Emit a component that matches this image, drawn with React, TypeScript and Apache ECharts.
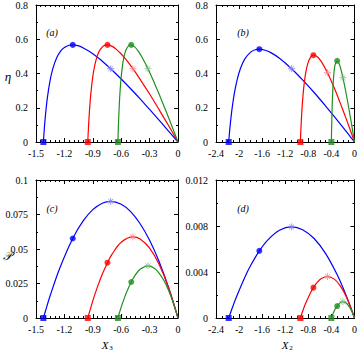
import React, { useEffect, useRef } from "react";
import * as echarts from "echarts";

// ---------- data ----------
// panel (a): efficiency vs X3
const aBlueX = [-1.422, -1.41, -1.40, -1.38, -1.35, -1.32, -1.28, -1.24, -1.2, -1.15, -1.112, -1.05, -1.0, -0.9, -0.8, -0.711, -0.6, -0.5, -0.4, -0.3, -0.2, -0.1, 0];
const aBlueY = [0, 0.093, 0.157, 0.258, 0.363, 0.433, 0.494, 0.531, 0.552, 0.565, 0.567, 0.561, 0.549, 0.516, 0.472, 0.428, 0.368, 0.311, 0.252, 0.190, 0.128, 0.064, 0];
const aRedX = [-0.953, -0.945, -0.935, -0.92, -0.9, -0.88, -0.85, -0.82, -0.78, -0.745, -0.7, -0.65, -0.6, -0.55, -0.4765, -0.4, -0.3, -0.2, -0.1, 0];
const aRedY = [0, 0.093, 0.184, 0.287, 0.382, 0.446, 0.507, 0.541, 0.563, 0.567, 0.560, 0.541, 0.514, 0.482, 0.428, 0.366, 0.280, 0.189, 0.096, 0];
const aGreenX = [-0.635, -0.63, -0.62, -0.61, -0.6, -0.585, -0.57, -0.55, -0.52, -0.494, -0.46, -0.42, -0.38, -0.3175, -0.25, -0.2, -0.15, -0.1, -0.05, 0];
const aGreenY = [0, 0.087, 0.219, 0.312, 0.380, 0.452, 0.498, 0.537, 0.563, 0.567, 0.557, 0.531, 0.495, 0.428, 0.345, 0.280, 0.212, 0.143, 0.072, 0];

// panel (b): efficiency vs X2
const bBlueX = [-2.18, -2.17, -2.15, -2.12, -2.08, -2.03, -1.97, -1.9, -1.8, -1.72, -1.649, -1.55, -1.45, -1.3, -1.09, -0.9, -0.7, -0.5, -0.3, -0.1, 0];
const bBlueY = [0, 0.041, 0.112, 0.199, 0.288, 0.369, 0.435, 0.485, 0.525, 0.539, 0.542, 0.536, 0.522, 0.489, 0.428, 0.363, 0.289, 0.210, 0.128, 0.043, 0];
const bRedX = [-0.938, -0.933, -0.925, -0.915, -0.9, -0.88, -0.85, -0.81, -0.76, -0.712, -0.65, -0.58, -0.469, -0.35, -0.25, -0.15, -0.05, 0];
const bRedY = [0, 0.042, 0.101, 0.163, 0.240, 0.316, 0.395, 0.458, 0.496, 0.507, 0.499, 0.472, 0.405, 0.315, 0.230, 0.141, 0.048, 0];
const bGreenX = [-0.401, -0.399, -0.396, -0.392, -0.386, -0.378, -0.367, -0.353, -0.335, -0.3, -0.27, -0.24, -0.2005, -0.15, -0.1, -0.05, 0];
const bGreenY = [0, 0.038, 0.088, 0.146, 0.217, 0.288, 0.357, 0.413, 0.453, 0.474, 0.460, 0.430, 0.376, 0.292, 0.200, 0.102, 0];

// panel (c): power vs X3
const cBlueX = [-1.422, -1.40, -1.35, -1.25, -1.112, -1.0, -0.9, -0.8, -0.711, -0.6, -0.5, -0.4, -0.3, -0.2, -0.1, 0];
const cBlueY = [0, 0.0051, 0.0163, 0.0359, 0.0576, 0.0705, 0.0785, 0.0832, 0.0845, 0.0824, 0.0771, 0.0683, 0.0563, 0.0409, 0.0221, 0];
const cRedX = [-0.953, -0.9, -0.85, -0.8, -0.745, -0.7, -0.6, -0.4765, -0.4, -0.3, -0.2, -0.1, 0];
const cRedY = [0, 0.0124, 0.0227, 0.0317, 0.0401, 0.0459, 0.0549, 0.0588, 0.0573, 0.0507, 0.0390, 0.0221, 0];
const cGreenX = [-0.635, -0.6, -0.55, -0.494, -0.45, -0.4, -0.3175, -0.25, -0.2, -0.15, -0.1, -0.05, 0];
const cGreenY = [0, 0.0079, 0.0175, 0.0261, 0.0312, 0.0353, 0.0378, 0.0361, 0.0326, 0.0273, 0.0201, 0.0110, 0];

// panel (d): power vs X2
const dBlueX = [-2.18, -2.12, -2.05, -1.9, -1.8, -1.649, -1.5, -1.3, -1.09, -0.9, -0.7, -0.5, -0.3, -0.15, 0];
const dBlueY = [0, 0.00085, 0.00178, 0.00355, 0.00456, 0.00584, 0.0068, 0.00763, 0.00792, 0.00768, 0.00691, 0.0056, 0.00376, 0.00203, 0];
const dRedX = [-0.938, -0.9, -0.85, -0.76, -0.712, -0.65, -0.58, -0.469, -0.35, -0.25, -0.15, -0.05, 0];
const dRedY = [0, 0.00056, 0.00123, 0.00222, 0.00264, 0.00307, 0.00341, 0.00361, 0.00338, 0.00282, 0.00194, 0.00073, 0];
const dGreenX = [-0.401, -0.386, -0.367, -0.335, -0.3, -0.24, -0.2005, -0.15, -0.1, -0.05, 0];
const dGreenY = [0, 0.0002, 0.00044, 0.00078, 0.00105, 0.00136, 0.00142, 0.00133, 0.00106, 0.00062, 0];

// markers: squares (stall point), circles (max efficiency), stars (max power)
const x3Zero = [-1.422, -0.953, -0.635];
const x3EtaMax = [-1.112, -0.745, -0.494];
const etaMaxA = [0.567, 0.567, 0.567];
const x3PMax = [-0.711, -0.4765, -0.3175];
const etaAtPMaxA = [0.428, 0.428, 0.428];
const pAtEtaMaxC = [0.0576, 0.0401, 0.0261];
const pMaxC = [0.0845, 0.0588, 0.0378];

const x2Zero = [-2.18, -0.938, -0.401];
const x2EtaMax = [-1.649, -0.712, -0.3];
const etaMaxB = [0.542, 0.507, 0.474];
const x2PMax = [-1.09, -0.469, -0.2005];
const etaAtPMaxB = [0.428, 0.405, 0.376];
const pAtEtaMaxD = [0.00584, 0.00264, 0.00104];
const pMaxD = [0.00792, 0.00361, 0.00142];

const xTicks3 = { min: -1.5, max: 0, interval: 0.3 };
const xTicks2 = { min: -2.4, max: 0, interval: 0.4 };
const yTicksEta = { min: 0, max: 0.8, interval: 0.2 };
const yTicksPc = { min: 0, max: 0.1, interval: 0.025 };
const yTicksPd = { min: 0, max: 0.012, interval: 0.004 };

// ---------- styles ----------
const COLORS = ["#0000ff", "#ff0000", "#1f8f1f"];
const STAR_COLORS = ["#8080ff", "#ff8080", "#7fbf7f"];
const FONT = "'Liberation Serif','DejaVu Serif',serif";
const STAR = "path://M5,0L5,10M0,5L10,5M1.5,1.5L8.5,8.5M1.5,8.5L8.5,1.5";

const zip = (xs: number[], ys: number[]) => xs.map((x, i) => [x, ys[i]]);
const fmt = (v: number) => String(+v.toFixed(4));

function App() {
  const ref = useRef<HTMLDivElement>(null);

  useEffect(() => {
    document.body.style.margin = "0";
    if (!ref.current) return;
    const chart = echarts.init(ref.current, null, { renderer: "svg" });

    const grids = [
      { left: 36, top: 4, width: 142, height: 138 },
      { left: 216, top: 4, width: 142, height: 138 },
      { left: 36, top: 180, width: 142, height: 138 },
      { left: 216, top: 180, width: 142, height: 138 },
    ];

    const xAxes: any[] = [];
    const yAxes: any[] = [];
    const xCfg = [
      { t: xTicks3, minor: 6 },
      { t: xTicks2, minor: 4 },
      { t: xTicks3, minor: 6 },
      { t: xTicks2, minor: 4 },
    ];
    const yCfg = [
      { t: yTicksEta, minor: 2 },
      { t: yTicksEta, minor: 2 },
      { t: yTicksPc, minor: 2 },
      { t: yTicksPd, minor: 2 },
    ];
    const axisCommon = (labels: boolean) => ({
      type: "value",
      axisLine: { show: true, onZero: false, lineStyle: { color: "#000", width: 1 } },
      axisTick: { show: true, inside: true, length: 4, lineStyle: { color: "#000", width: 1 } },
      minorTick: { show: true, length: 2, lineStyle: { color: "#000", width: 1 } },
      splitLine: { show: false },
      minorSplitLine: { show: false },
      axisLabel: {
        show: labels,
        fontFamily: FONT,
        fontSize: 10,
        color: "#000",
        formatter: fmt,
        showMinLabel: true,
        showMaxLabel: true,
      },
    });
    for (let g = 0; g < 4; g++) {
      for (const pos of ["bottom", "top"]) {
        const base: any = axisCommon(pos === "bottom");
        base.minorTick.splitNumber = xCfg[g].minor;
        base.axisLabel.margin = 6;
        xAxes.push({
          ...base,
          gridIndex: g,
          position: pos,
          min: xCfg[g].t.min,
          max: xCfg[g].t.max,
          interval: xCfg[g].t.interval,
        });
      }
      for (const pos of ["left", "right"]) {
        const base: any = axisCommon(pos === "left");
        base.minorTick.splitNumber = yCfg[g].minor;
        base.axisLabel.margin = 8;
        yAxes.push({
          ...base,
          gridIndex: g,
          position: pos,
          min: yCfg[g].t.min,
          max: yCfg[g].t.max,
          interval: yCfg[g].t.interval,
        });
      }
    }

    const curves = [
      [zip(aBlueX, aBlueY), zip(aRedX, aRedY), zip(aGreenX, aGreenY)],
      [zip(bBlueX, bBlueY), zip(bRedX, bRedY), zip(bGreenX, bGreenY)],
      [zip(cBlueX, cBlueY), zip(cRedX, cRedY), zip(cGreenX, cGreenY)],
      [zip(dBlueX, dBlueY), zip(dRedX, dRedY), zip(dGreenX, dGreenY)],
    ];
    const markers = [
      { zero: x3Zero, cx: x3EtaMax, cy: etaMaxA, sx: x3PMax, sy: etaAtPMaxA },
      { zero: x2Zero, cx: x2EtaMax, cy: etaMaxB, sx: x2PMax, sy: etaAtPMaxB },
      { zero: x3Zero, cx: x3EtaMax, cy: pAtEtaMaxC, sx: x3PMax, sy: pMaxC },
      { zero: x2Zero, cx: x2EtaMax, cy: pAtEtaMaxD, sx: x2PMax, sy: pMaxD },
    ];

    const series: any[] = [];
    for (let g = 0; g < 4; g++) {
      curves[g].forEach((data, k) => {
        series.push({
          type: "line",
          xAxisIndex: 2 * g,
          yAxisIndex: 2 * g,
          data,
          smooth: 0.35,
          symbol: "none",
          lineStyle: { color: COLORS[k], width: 1.2 },
          z: 3,
        });
      });
      const m = markers[g];
      series.push({
        type: "scatter",
        xAxisIndex: 2 * g,
        yAxisIndex: 2 * g,
        symbol: "rect",
        symbolSize: 6,
        clip: false,
        z: 5,
        data: m.zero.map((x, k) => ({ value: [x, 0], itemStyle: { color: COLORS[k] } })),
      });
      series.push({
        type: "scatter",
        xAxisIndex: 2 * g,
        yAxisIndex: 2 * g,
        symbol: "circle",
        symbolSize: 6,
        clip: false,
        z: 5,
        data: m.cx.map((x, k) => ({ value: [x, m.cy[k]], itemStyle: { color: COLORS[k] } })),
      });
      series.push({
        type: "scatter",
        xAxisIndex: 2 * g,
        yAxisIndex: 2 * g,
        symbol: STAR,
        symbolSize: 7,
        clip: false,
        z: 5,
        data: m.sx.map((x, k) => ({
          value: [x, m.sy[k]],
          itemStyle: { color: "none", borderColor: STAR_COLORS[k], borderWidth: 1 },
        })),
      });
    }

    const txt = (text: string, x: number, y: number, font: string) => ({
      type: "text",
      x,
      y,
      style: {
        text,
        font,
        fill: "#000",
        textAlign: "center",
        textVerticalAlign: "middle",
        align: "center",
        verticalAlign: "middle",
      },
      z: 10,
    });
    const it = (s: number) => `italic ${s}px ${FONT}`;
    const rm = (s: number) => `${s}px ${FONT}`;

    const graphic = [
      txt("(a)", 52, 32, it(10)),
      txt("(b)", 243, 32, it(10)),
      txt("(c)", 52, 208, it(10)),
      txt("(d)", 243, 208, it(10)),
      txt("η", 8, 76, it(13)),
      txt("𝒫", 7, 256, it(12)),
      txt("X", 105, 345, it(11)),
      txt("3", 111, 348, rm(7)),
      txt("X", 285, 345, it(11)),
      txt("2", 291, 348, rm(7)),
    ];

    chart.setOption({
      animation: false,
      backgroundColor: "#fff",
      grid: grids,
      xAxis: xAxes,
      yAxis: yAxes,
      series,
      graphic,
    });
    return () => chart.dispose();
  }, []);

  return <div ref={ref} style={{ width: 360, height: 352 }} />;
}

export default App;
